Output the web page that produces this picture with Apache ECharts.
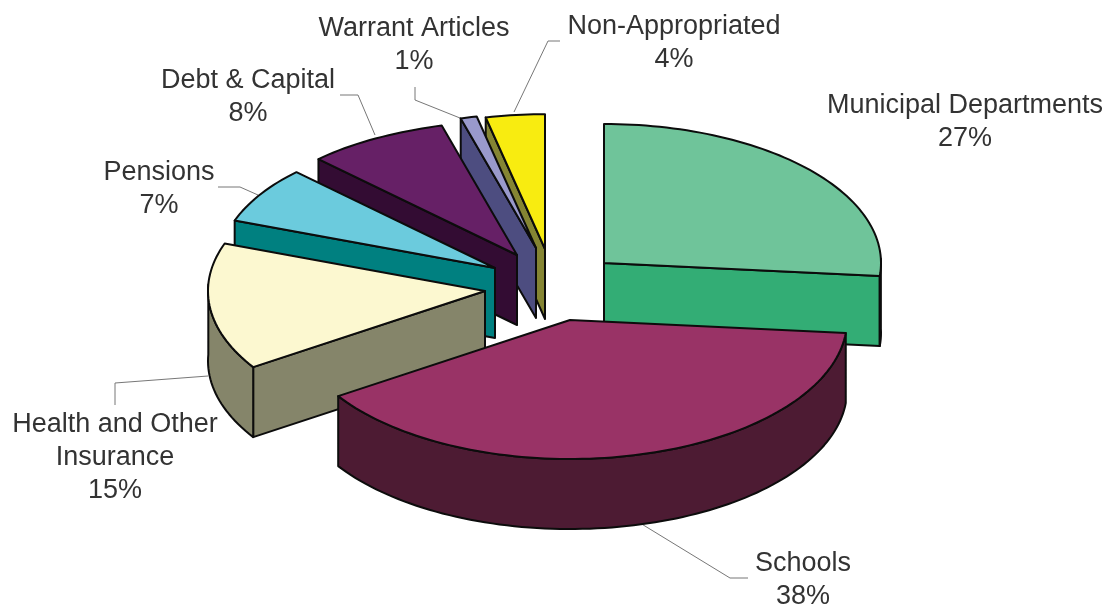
<!DOCTYPE html>
<html>
<head>
<meta charset="utf-8">
<style>html,body{margin:0;padding:0;background:#fff}#chart{width:1115px;height:610px}</style>
<script src="https://cdn.jsdelivr.net/npm/echarts@6/dist/echarts.min.js"></script>
</head>
<body>
<div id="chart"></div>
<script>
// Budget shares, clockwise from twelve o'clock
const categories = ['Municipal Departments', 'Schools', 'Health and Other\nInsurance', 'Pensions', 'Debt & Capital', 'Warrant Articles', 'Non-Appropriated'];
const percents = [27, 38, 15, 7, 8, 1, 4];

const topColors = ['#6FC49A', '#993366', '#FCF8D0', '#6BCBDD', '#662066', '#9999CC', '#F8EC10'];
const wallColors = ['#33AD75', '#4D1B33', '#85856A', '#008080', '#330C33', '#4D4D80', '#858533'];

// Pie geometry: common centre, ellipse radii, extrusion and each slice's pull-out
const pieCenter = [545, 284];
const radiusX = 277;
const radiusY = 139;
const extrusion = 70;
const explodeOffsets = [[59, -21], [25, 36], [-60, 7], [-50, -16], [-28, -29], [-9, -36], [0, -35]];

// Back slices are painted first so nearer ones cover them
const paintOrder = [6, 5, 4, 3, 2, 0, 1];

// Label anchors (centre of the first text line) and leader lines
const labelAnchors = [[965, 106], [803, 564], [115, 425], [159, 173], [248, 81], [414, 29], [674, 27]];
const leaderPaths = [
  null,
  [[640, 523], [730, 578], [748, 578]],
  [[208, 376], [115, 383], [115, 405]],
  [[218, 187], [240, 187], [258, 195]],
  [[340, 95], [358, 95], [375, 135]],
  [[415, 87], [415, 100], [460, 118]],
  [[560, 41], [548, 41], [514, 112]]
];

const total = percents.reduce((s, v) => s + v, 0);
const startAngles = [];
percents.reduce((acc, v, i) => { startAngles[i] = acc; return acc + v / total * 360; }, 0);

// Small angular skew caused by the tilted view
function skewedAngle(deg) {
  if (deg < 180) return deg - 1.8 * Math.sin(deg * Math.PI / 180);
  if (deg < 320) return deg + 3 * Math.sin((deg - 180) / 140 * Math.PI);
  return deg;
}

// Screen position of a rim angle (degrees clockwise from the top), with mild foreshortening
// of the far left of the pie
function rimPoint(center, deg) {
  const t = skewedAngle(deg) * Math.PI / 180;
  const c = Math.cos(t);
  const far = deg > 180 && c > 0 ? Math.pow(c, 8) : 0;
  return [center[0] + radiusX * Math.sin(t) * (1 - 0.18 * far), center[1] - radiusY * c * (1 - 0.03 * far)];
}
function arcPoints(center, from, to) {
  const pts = [];
  const steps = Math.max(2, Math.ceil((to - from) / 1.5));
  for (let i = 0; i <= steps; i++) pts.push(rimPoint(center, from + (to - from) * i / steps));
  return pts;
}
const lowered = p => [p[0], p[1] + extrusion];

function facePolygon(points, fill) {
  return {
    type: 'polygon',
    shape: { points },
    style: { fill, stroke: '#0c0c0c', lineWidth: 2, lineJoin: 'round' },
    silent: true
  };
}

function renderSlice(params, api) {
  const i = api.value(0);
  const a0 = startAngles[i];
  const a1 = a0 + percents[i] / total * 360;
  const center = [pieCenter[0] + explodeOffsets[i][0], pieCenter[1] + explodeOffsets[i][1]];
  const sin0 = Math.sin(a0 * Math.PI / 180);
  const sin1 = Math.sin(a1 * Math.PI / 180);
  const children = [];
  // The radial walls face the viewer only on one side of the pie
  if (sin0 < -1e-6) {
    const r = rimPoint(center, a0);
    children.push(facePolygon([center, r, lowered(r), lowered(center)], wallColors[i]));
  }
  if (sin1 > 1e-6) {
    const r = rimPoint(center, a1);
    children.push(facePolygon([center, r, lowered(r), lowered(center)], wallColors[i]));
  }
  // Outer curved wall on the near half of the rim
  const wFrom = Math.max(a0, 90);
  const wTo = Math.min(a1, 270);
  if (wTo > wFrom) {
    const arc = arcPoints(center, wFrom, wTo);
    children.push(facePolygon(arc.concat(arc.map(lowered).reverse()), wallColors[i]));
  }
  children.push(facePolygon([center].concat(arcPoints(center, a0, a1)), topColors[i]));
  return { type: 'group', children };
}

function renderLabel(params, api) {
  const i = api.value(0);
  const children = [];
  if (leaderPaths[i]) {
    children.push({
      type: 'polyline',
      shape: { points: leaderPaths[i] },
      style: { fill: 'none', stroke: '#777', lineWidth: 1 },
      silent: true
    });
  }
  children.push({
    type: 'text',
    style: {
      x: labelAnchors[i][0],
      y: labelAnchors[i][1] - 16.5,
      text: categories[i] + '\n' + percents[i] + '%',
      font: '27px "Liberation Sans", Arial, sans-serif',
      lineHeight: 33,
      fill: '#333',
      align: 'center',
      verticalAlign: 'top'
    },
    silent: true
  });
  return { type: 'group', children };
}

const chart = echarts.init(document.getElementById('chart'), null, { renderer: 'canvas' });
chart.setOption({
  backgroundColor: '#fff',
  animation: false,
  series: [
    { type: 'custom', coordinateSystem: 'none', renderItem: renderLabel, data: categories.map((_, i) => [i]), z: 1, silent: true },
    { type: 'custom', coordinateSystem: 'none', renderItem: renderSlice, data: paintOrder.map(i => [i]), z: 2, silent: true }
  ]
});
</script>
</body>
</html>
